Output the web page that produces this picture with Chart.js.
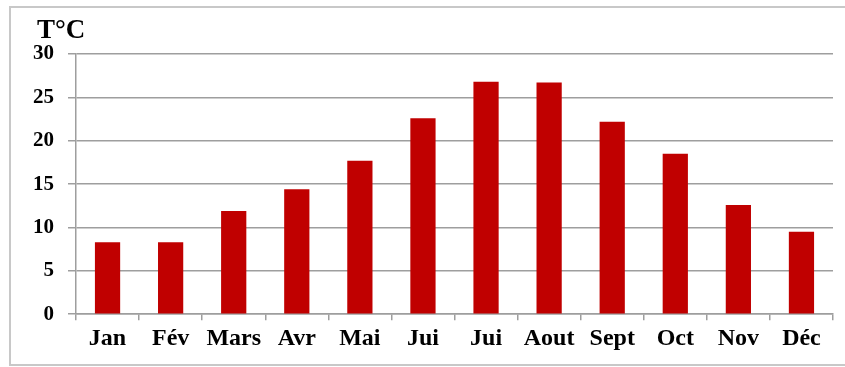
<!DOCTYPE html>
<html>
<head>
<meta charset="utf-8">
<script src="https://cdn.jsdelivr.net/npm/chart.js@4.4.1/dist/chart.umd.min.js"></script>
<style>
  html, body { margin: 0; padding: 0; background: #fff; overflow: hidden; }
  body { width: 845px; height: 367px; position: relative; }
  #frame { position: absolute; left: 9px; top: 6px; width: 836px; height: 360px;
           border-style: solid; border-color: #c8c8c8; border-width: 2px 0 2px 2px;
           box-sizing: border-box; }
  #wrap { position: absolute; left: 0; top: 0; width: 845px; height: 367px; }
</style>
</head>
<body>
<div id="frame"></div>
<div id="wrap"><canvas id="c"></canvas></div>
<script>
// Monthly mean temperatures
const months = ['Jan', 'Fév', 'Mars', 'Avr', 'Mai', 'Jui', 'Jui', 'Aout', 'Sept', 'Oct', 'Nov', 'Déc'];
const temperatures = [8.3, 8.3, 11.9, 14.4, 17.7, 22.6, 26.8, 26.7, 22.2, 18.5, 12.6, 9.5];
const yTicks = [0, 5, 10, 15, 20, 25, 30];
const unitLabel = 'T°C';

const SERIF = "'Liberation Serif', 'Times New Roman', serif";
const GRID = '#9e9e9e';

// Unit label drawn above the value axis
const unitTitle = {
  id: 'unitTitle',
  afterDraw(chart) {
    const { ctx } = chart;
    ctx.save();
    ctx.font = 'bold 27px ' + SERIF;
    ctx.fillStyle = '#000';
    ctx.textAlign = 'left';
    ctx.textBaseline = 'alphabetic';
    ctx.fillText(unitLabel, 37, 38);
    ctx.restore();
  }
};

new Chart(document.getElementById('c'), {
  type: 'bar',
  data: {
    labels: months,
    datasets: [{
      data: temperatures,
      backgroundColor: '#c00000',
      borderWidth: 0,
      barPercentage: 0.4,
      categoryPercentage: 1.0
    }]
  },
  options: {
    responsive: true,
    maintainAspectRatio: false,
    animation: false,
    layout: { padding: { left: 10, right: 12, top: 54, bottom: 10 } },
    plugins: {
      legend: { display: false },
      tooltip: { enabled: false }
    },
    scales: {
      x: {
        offset: true,
        grid: {
          offset: true,
          drawOnChartArea: false,
          drawTicks: true,
          tickLength: 6,
          color: GRID,
          lineWidth: 1.5
        },
        border: { color: GRID, width: 1.5 },
        ticks: {
          color: '#000',
          padding: 4,
          font: { family: SERIF, size: 24, weight: 'bold' }
        }
      },
      y: {
        min: 0,
        max: 30,
        afterBuildTicks(scale) { scale.ticks = yTicks.map(v => ({ value: v })); },
        afterFit(scale) { scale.width = 66; },
        grid: {
          color: GRID,
          lineWidth: 1.5,
          drawTicks: true,
          tickLength: 8
        },
        border: { color: GRID, width: 1.5 },
        ticks: {
          color: '#000',
          padding: 14,
          font: { family: SERIF, size: 21, weight: 'bold' }
        }
      }
    }
  },
  plugins: [unitTitle]
});
</script>
</body>
</html>
